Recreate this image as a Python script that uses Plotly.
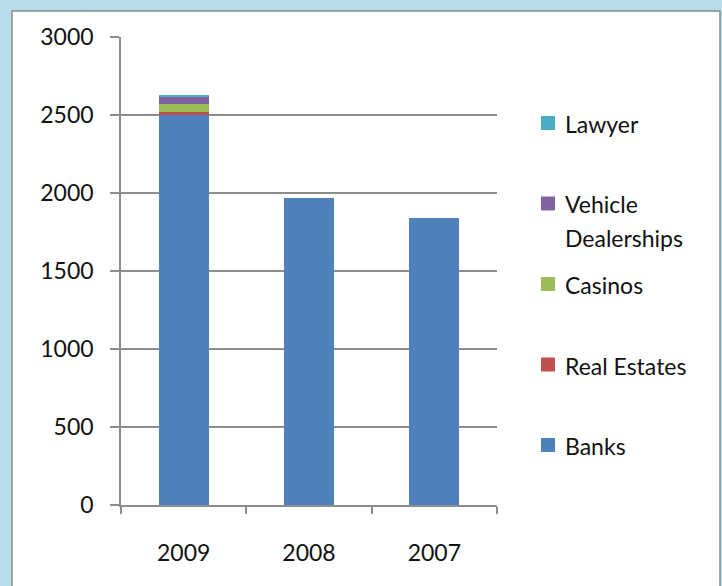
import plotly.graph_objects as go

# Reported cases per sector and year
years = ["2009", "2008", "2007"]
series_names = ["Banks", "Real Estates", "Casinos", "Vehicle<br>Dealerships", "Lawyer"]
banks = [2505, 1970, 1840]
real_estates = [12, 0, 0]
casinos = [51, 0, 0]
vehicle_dealerships = [49, 0, 0]
lawyer = [13, 0, 0]
y_ticks = [0, 500, 1000, 1500, 2000, 2500, 3000]

series_values = [banks, real_estates, casinos, vehicle_dealerships, lawyer]
colors = ["#4F81BD", "#C0504D", "#9BBB59", "#8064A2", "#4BACC6"]

FONT = "Lato"
FS = 23
W, H = 722, 586
ML, MR, MT, MB = 121, 225, 37, 81
PW, PH = W - ML - MR, H - MT - MB


def px_x(x):
    return (x - ML) / PW


def px_y(y):
    return (H - MB - y) / PH


fig = go.Figure()
for name, vals, col in zip(series_names, series_values, colors):
    fig.add_trace(go.Bar(
        x=years, y=vals, name=name.replace("<br>", " "),
        marker=dict(color=col, line=dict(width=0)),
        showlegend=False,
    ))

shapes = [
    # white chart panel over the blue surround
    dict(type="rect", xref="paper", yref="paper", layer="below",
         x0=px_x(12), x1=px_x(720), y0=px_y(11), y1=px_y(600),
         fillcolor="white", line=dict(color="#8A8A8A", width=1.5)),
]
annotations = []

# legend, listed top to bottom in reverse stacking order
sq = 14
top_center = 123
step = 80.5
line_gap = 33
for i, (name, col) in enumerate(zip(series_names[::-1], colors[::-1])):
    cy = top_center + i * step
    shapes.append(dict(type="rect", xref="paper", yref="paper",
                       x0=px_x(541), x1=px_x(541 + sq),
                       y0=px_y(cy + sq / 2), y1=px_y(cy - sq / 2),
                       fillcolor=col, line=dict(width=0)))
    for j, part in enumerate(name.split("<br>")):
        annotations.append(dict(
            xref="paper", yref="paper", x=px_x(563), y=px_y(cy + 1 + j * line_gap),
            xanchor="left", yanchor="middle", showarrow=False, text=part,
            font=dict(family=FONT, size=FS, color="#111111"),
        ))

fig.update_layout(
    width=W, height=H,
    margin=dict(l=ML, r=MR, t=MT, b=MB),
    barmode="stack",
    bargap=0.6,
    paper_bgcolor="#B7DDE8",
    plot_bgcolor="rgba(0,0,0,0)",
    font=dict(family=FONT, size=FS, color="#111111"),
    shapes=shapes,
    annotations=annotations,
    xaxis=dict(
        type="category", showgrid=False, showline=True,
        linecolor="#8C8C8C", linewidth=1.5,
        ticks="outside", tickson="boundaries", ticklen=7,
        tickcolor="#8C8C8C", tickwidth=1.5,
        ticklabelstandoff=27,
        tickfont=dict(family=FONT, size=FS, color="#111111"),
    ),
    yaxis=dict(
        range=[0, 3000], tickvals=y_ticks,
        showgrid=True, gridcolor="#8C8C8C", gridwidth=1.5,
        showline=True, linecolor="#8C8C8C", linewidth=1.5,
        ticks="outside", ticklen=9, tickcolor="#8C8C8C", tickwidth=1.5,
        ticklabelstandoff=12, zeroline=False,
        tickfont=dict(family=FONT, size=FS, color="#111111"),
    ),
)

fig.write_html("out.html")
